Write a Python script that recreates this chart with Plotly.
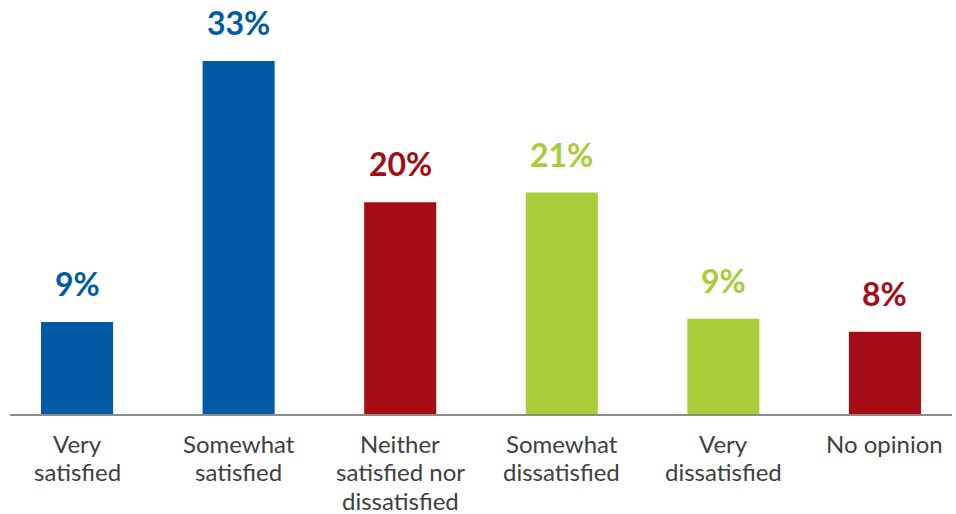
import plotly.graph_objects as go

categories = [["Very", "satisfied"], ["Somewhat", "satisfied"], ["Neither", "satisfied nor", "dissatisfied"],
              ["Somewhat", "dissatisfied"], ["Very", "dissatisfied"], ["No opinion"]]
values = [8.6, 33.0, 19.8, 20.7, 8.9, 7.7]
labels = ["9%", "33%", "20%", "21%", "9%", "8%"]
colors = ["#005BA4", "#005BA4", "#A50C15", "#A7CD39", "#A7CD39", "#A50C15"]

fig = go.Figure()
fig.add_trace(go.Bar(x=list(range(len(categories))), y=values, marker_color=colors,
                     marker_line_width=0, width=0.446))

for i, (v, lab, c) in enumerate(zip(values, labels, colors)):
    fig.add_annotation(x=i, y=v, text="<b>%s</b>" % lab, showarrow=False,
                       yanchor="bottom", yshift=17,
                       font=dict(family="Lato", size=32, color=c))

# category labels, one line per annotation for tight line spacing
for i, lines in enumerate(categories):
    for k, line in enumerate(lines):
        fig.add_annotation(x=i, y=0, text=line, showarrow=False,
                           yanchor="middle", yshift=-(29 + 28.5 * k),
                           font=dict(family="Lato", size=24, color="#404040"))

fig.update_layout(
    width=956, height=514,
    margin=dict(l=10, r=4, t=0, b=100),
    paper_bgcolor="white", plot_bgcolor="white",
    showlegend=False,
    font=dict(family="Lato"),
)
fig.update_xaxes(
    range=[-0.415, 5.415], showline=True, linecolor="#8C8C8C", linewidth=2,
    showgrid=False, zeroline=False, showticklabels=False, automargin=False,
)
fig.update_yaxes(range=[0, 38.7], visible=False, showgrid=False, zeroline=False, automargin=False)

fig.write_html("out.html", config={"displayModeBar": False},
               post_script="document.body.style.margin='0';")
